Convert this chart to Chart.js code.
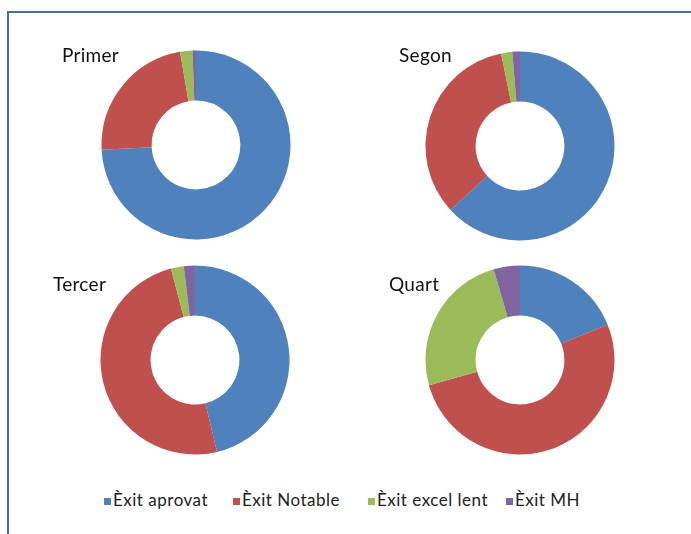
<!DOCTYPE html>
<html>
<head>
<meta charset="utf-8">
<script src="https://cdn.jsdelivr.net/npm/chart.js@4/dist/chart.umd.min.js"></script>
<style>
  html, body { margin: 0; padding: 0; background: #fff; }
  body { width: 691px; height: 534px; position: relative; overflow: hidden; font-family: Lato, "Open Sans", sans-serif; }
  #frame { position: absolute; left: 7px; top: 11px; width: 800px; height: 600px;
           border-top: 2px solid #4a6d9c; border-left: 2px solid #4a6d9c; }
  .box { position: absolute; width: 200px; height: 200px; }
  .ttl { position: absolute; font-size: 19px; color: #111; line-height: 1; white-space: nowrap; letter-spacing: 0.3px; }
  #legend { position: absolute; left: 0; top: 490px; height: 20px; }
  .item { position: absolute; top: 0; font-size: 17px; color: #222; white-space: nowrap; line-height: 20px; letter-spacing: 0.5px; }
  .sw { display: inline-block; width: 7px; height: 7px; margin-right: 2px; vertical-align: 1px; }
</style>
</head>
<body>
<div id="frame"></div>
<div id="charts"></div>
<div id="legend"></div>
<script>
// Result categories shared by every ring
const categories = ['Èxit aprovat', 'Èxit Notable', 'Èxit excel lent', 'Èxit MH'];
const colors = ['#4f81bd', '#c0504d', '#9bbb59', '#8064a2'];

// Share of each result per course (%)
const courseNames = ['Primer', 'Segon', 'Tercer', 'Quart'];
const primer = [74.2, 23.1, 2.1, 0.6];
const segon  = [63.1, 33.6, 1.9, 1.3];
const tercer = [46.3, 49.7, 2.2, 1.9];
const quart  = [18.9, 51.8, 24.8, 4.5];
const courseValues = [primer, segon, tercer, quart];

// Layout: ring centres and title anchors
const centers = [[195.5, 145.2], [519.5, 145.8], [195.2, 360], [519.5, 360]];
const titlePos = [[62, 45], [399, 45], [53, 274], [389, 274]];

const chartsEl = document.getElementById('charts');
courseNames.forEach((name, i) => {
  const box = document.createElement('div');
  box.className = 'box';
  box.style.left = (centers[i][0] - 100) + 'px';
  box.style.top = (centers[i][1] - 100) + 'px';
  const cv = document.createElement('canvas');
  cv.width = 200; cv.height = 200;
  box.appendChild(cv);
  chartsEl.appendChild(box);

  const t = document.createElement('div');
  t.className = 'ttl';
  t.textContent = name;
  t.style.left = titlePos[i][0] + 'px';
  t.style.top = titlePos[i][1] + 'px';
  document.body.appendChild(t);

  new Chart(cv, {
    type: 'doughnut',
    data: {
      labels: categories,
      datasets: [{
        data: courseValues[i],
        backgroundColor: colors,
        borderWidth: 0,
        radius: 94.5,
        cutout: 47
      }]
    },
    options: {
      responsive: false,
      animation: false,
      layout: { padding: 0 },
      plugins: { legend: { display: false }, tooltip: { enabled: false }, title: { display: false } }
    }
  });
});

// Legend along the bottom
const legendX = [104, 233, 368, 506];
const legendEl = document.getElementById('legend');
categories.forEach((c, i) => {
  const it = document.createElement('div');
  it.className = 'item';
  it.style.left = legendX[i] + 'px';
  const sw = document.createElement('span');
  sw.className = 'sw';
  sw.style.background = colors[i];
  it.appendChild(sw);
  it.appendChild(document.createTextNode(c));
  legendEl.appendChild(it);
});
</script>
</body>
</html>
